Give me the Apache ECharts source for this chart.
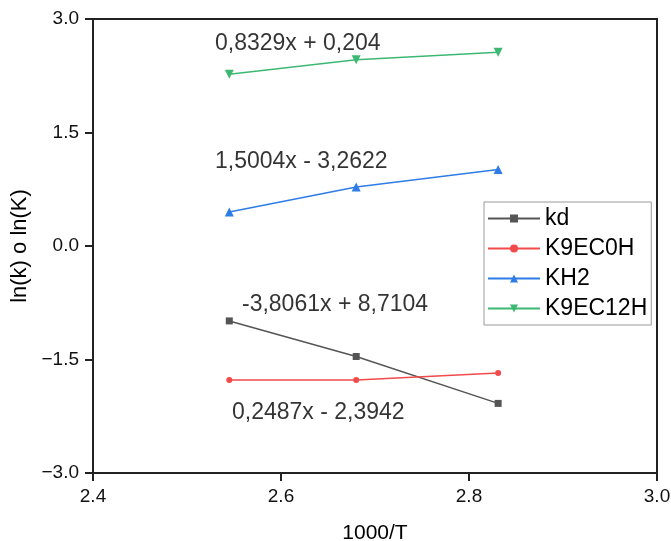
<!DOCTYPE html>
<html>
<head>
<meta charset="utf-8">
<script src="https://cdn.jsdelivr.net/npm/echarts@6/dist/echarts.min.js"></script>
<style>html,body{margin:0;padding:0;background:#fff}#c{width:671px;height:541px}</style>
</head>
<body>
<div id="c"></div>
<script>
var xValues = [2.545, 2.680, 2.831];
var kd = [-0.99, -1.46, -2.08];
var k9ec0h = [-1.77, -1.77, -1.68];
var kh2 = [0.45, 0.78, 1.01];
var k9ec12h = [2.27, 2.46, 2.56];
var seriesNames = ['kd', 'K9EC0H', 'KH2', 'K9EC12H'];
var equations = ['-3,8061x + 8,7104', '0,2487x - 2,3942', '1,5004x - 3,2622', '0,8329x + 0,204'];
var eqAnchors = [[2.5585, -0.77], [2.5479, -2.20], [2.5298, 1.12], [2.5298, 2.67]];

function pairs(ys){ return xValues.map(function(x,i){ return [x, ys[i]]; }); }

var FONT = 'Liberation Sans, Arial, sans-serif';
var colors = ['#555555', '#f24a4a', '#2e7ce6', '#3db873'];
var symbols = ['rect', 'circle', 'triangle', 'path://M0,0 L10,0 L5,9 Z'];
var sizes = [7, 6, 9, 9];
var data = [kd, k9ec0h, kh2, k9ec12h];

var chart = echarts.init(document.getElementById('c'));
var series = data.map(function(d, i){
  return {
    name: seriesNames[i], type: 'line', data: pairs(d),
    symbol: symbols[i], symbolSize: sizes[i], showAllSymbol: true,
    itemStyle: {color: colors[i]},
    lineStyle: {color: colors[i], width: 1.5},
    animation: false
  };
});
series.push({
  type: 'scatter', symbolSize: 0, silent: true, animation: false,
  data: eqAnchors.map(function(a, i){ return {value: a, label: {formatter: equations[i]}}; }),
  label: {show: true, position: 'right', distance: 0, color: '#000', fontSize: 23, fontFamily: FONT},
  tooltip: {show: false}
});

chart.setOption({
  animation: false,
  grid: {left: 93, right: 14, top: 19, bottom: 68, show: true, borderColor: '#222', borderWidth: 2, containLabel: false, outerBoundsMode: 'none'},
  legend: {
    data: seriesNames, orient: 'vertical', left: 484, top: 202,
    padding: [4, 4, 4, 3], itemWidth: 52, itemHeight: 10, itemGap: 5,
    borderColor: '#999', borderWidth: 1,
    textStyle: {fontSize: 23, fontFamily: FONT, color: '#000', lineHeight: 25}
  },
  xAxis: {
    type: 'value', min: 2.4, max: 3.0, interval: 0.2,
    name: '1000/T', nameLocation: 'middle', nameGap: 50,
    nameTextStyle: {fontSize: 21, fontFamily: FONT, color: '#000'},
    axisLine: {show: true, onZero: false, lineStyle: {color: '#222', width: 2}},
    axisTick: {show: true, length: 8, lineStyle: {color: '#222', width: 2}},
    axisLabel: {fontSize: 19, fontFamily: FONT, color: '#111', margin: 14, formatter: function(v){ return v.toFixed(1); }},
    splitLine: {show: false}
  },
  yAxis: {
    type: 'value', min: -3, max: 3, interval: 1.5,
    name: 'ln(k) o ln(K)', nameLocation: 'middle', nameGap: 51, nameRotate: 90,
    nameTextStyle: {fontSize: 22, fontFamily: FONT, color: '#000'},
    axisLine: {show: true, onZero: false, lineStyle: {color: '#222', width: 2}},
    axisTick: {show: true, length: 8, lineStyle: {color: '#222', width: 2}},
    axisLabel: {fontSize: 19, fontFamily: FONT, color: '#111', margin: 14, formatter: function(v){ var s = Math.abs(v).toFixed(1); return v < 0 ? '\u2212' + s : s; }},
    splitLine: {show: false}
  },
  series: series
});
</script>
</body>
</html>
